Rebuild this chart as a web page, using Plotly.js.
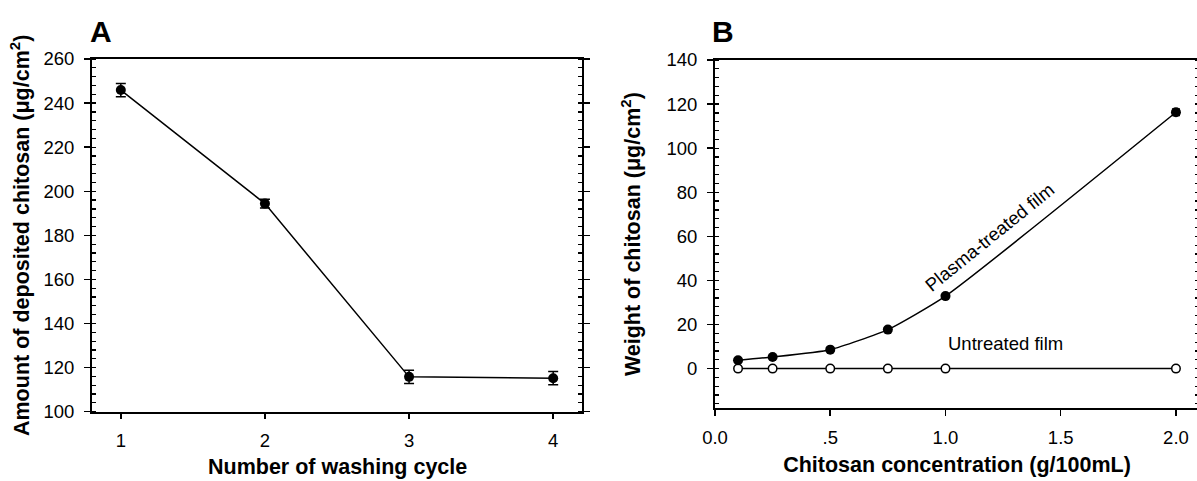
<!DOCTYPE html>
<html>
<head>
<meta charset="utf-8">
<script src="https://cdn.plot.ly/plotly-3.0.1.min.js"></script>
<style>
html,body{margin:0;padding:0;overflow:hidden;background:#fff;}
#chart{width:1200px;height:481px;}
</style>
</head>
<body>
<div id="chart"></div>
<script>
// ---- Panel A data ----
var washCycles = [1, 2, 3, 4];
var depositedChitosan = [245.9, 194.4, 115.8, 115.2];
var depositedErr = [3, 2, 3, 3];

// ---- Panel B data ----
var concentration = [0.1, 0.25, 0.5, 0.75, 1.0, 2.0];
var plasmaTreated = [3.8, 5.3, 8.6, 17.7, 32.9, 116.3];
var plasmaErr = [0, 0, 0, 0, 0, 1.5];
var untreated = [0, 0, 0, 0, 0, 0];

var xTicksA = [1, 2, 3, 4];
var xTickTextA = ['1', '2', '3', '4'];
var xTicksB = [0, 0.5, 1.0, 1.5, 2.0];
var xTickTextB = ['0.0', '.5', '1.0', '1.5', '2.0'];
var yTicksB = [0, 20, 40, 60, 80, 100, 120, 140];

var W = 1200, H = 481;
function dx(p){ return p / W; }
function dy(p){ return 1 - p / H; }

var FONT = 'Liberation Sans, Arial, sans-serif';
var tickFont = {family: FONT, size: 18.5, color: '#000'};
var titleFont = {family: FONT, size: 21.5, color: '#000', weight: 'bold'};

var traces = [
  {
    x: washCycles, y: depositedChitosan, xaxis: 'x', yaxis: 'y',
    type: 'scatter', mode: 'lines+markers',
    line: {color: '#000', width: 1.5},
    marker: {color: '#000', size: 10},
    error_y: {type: 'data', array: depositedErr, visible: true, color: '#000', thickness: 1.5, width: 5},
    showlegend: false
  },
  {
    x: concentration, y: untreated, xaxis: 'x2', yaxis: 'y2',
    type: 'scatter', mode: 'lines+markers',
    line: {color: '#000', width: 1.5},
    marker: {color: '#fff', size: 8.5, line: {color: '#000', width: 1.5}},
    showlegend: false
  },
  {
    x: concentration, y: plasmaTreated, xaxis: 'x2', yaxis: 'y2',
    type: 'scatter', mode: 'lines+markers',
    line: {color: '#000', width: 1.5, shape: 'spline', smoothing: 0.5},
    marker: {color: '#000', size: 10},
    error_y: {type: 'data', array: plasmaErr, visible: true, color: '#000', thickness: 1.5, width: 4},
    showlegend: false
  }
];

var commonY = {
  showline: true, linecolor: '#000', linewidth: 2,
  ticks: 'outside', ticklen: 6, tickwidth: 1.5, tickcolor: '#000',
  mirror: 'ticks', showgrid: false, zeroline: false,
  tickfont: tickFont, ticklabelstandoff: 6,
  minor: {dtick: 4, ticks: 'inside', ticklen: 4, tickwidth: 1.2, tickcolor: '#000', showgrid: false}
};
var innerY = {
  showline: false, ticks: 'inside', ticklen: 5, tickwidth: 1.5, tickcolor: '#000',
  mirror: 'ticks', showgrid: false, zeroline: false, showticklabels: false
};

var layout = {
  width: W, height: H,
  margin: {l: 0, r: 0, t: 0, b: 0},
  paper_bgcolor: '#fff', plot_bgcolor: '#fff',
  font: {family: FONT, color: '#000'},
  showlegend: false,
  xaxis: {
    domain: [dx(92), dx(582)], anchor: 'y', range: [0.8, 4.2],
    tickvals: xTicksA, ticktext: xTickTextA,
    showline: true, linecolor: '#000', linewidth: 2, mirror: true,
    ticks: 'outside', ticklen: 5, tickwidth: 1.5, tickcolor: '#000',
    showgrid: false, zeroline: false, tickfont: tickFont, ticklabelstandoff: 6
  },
  yaxis: Object.assign({}, commonY, {
    domain: [dy(411.7), dy(59)], anchor: 'x', range: [100, 260], dtick: 20,
    title: {text: 'Amount of deposited chitosan (μg/cm<sup>2</sup>)', font: titleFont, standoff: 8}
  }),
  yaxis3: Object.assign({}, innerY, {
    domain: [dy(411.7), dy(59)], anchor: 'x', overlaying: 'y', range: [100, 260], dtick: 20
  }),
  xaxis2: {
    domain: [dx(715), dx(1199)], anchor: 'y2', range: [0, 2.1],
    tickvals: xTicksB, ticktext: xTickTextB,
    showline: true, linecolor: '#000', linewidth: 2, mirror: true,
    ticks: 'outside', ticklen: 6, tickwidth: 1.5, tickcolor: '#000',
    showgrid: false, zeroline: false, tickfont: tickFont, ticklabelstandoff: 5,
    title: {text: 'Chitosan concentration (g/100mL)', font: titleFont, standoff: 10}
  },
  yaxis2: Object.assign({}, commonY, {
    domain: [dy(408.3), dy(60)], anchor: 'x2', range: [-18, 140],
    tickvals: yTicksB,
    title: {text: 'Weight of chitosan (μg/cm<sup>2</sup>)', font: titleFont, standoff: 20}
  }),
  yaxis4: Object.assign({}, innerY, {
    domain: [dy(408.3), dy(60)], anchor: 'x2', overlaying: 'y2', range: [-18, 140],
    tickvals: yTicksB
  }),
  annotations: [
    {text: '<b>Number of washing cycle</b>', xref: 'paper', yref: 'paper', x: dx(337), y: dy(467),
     xanchor: 'center', yanchor: 'middle', showarrow: false, font: {family: FONT, size: 21.5, color: '#000'}},
    {text: '<b>A</b>', xref: 'paper', yref: 'paper', x: dx(88), y: dy(31.5),
     xanchor: 'left', yanchor: 'middle', showarrow: false, font: {family: FONT, size: 30, color: '#000'}},
    {text: '<b>B</b>', xref: 'paper', yref: 'paper', x: dx(710), y: dy(31.5),
     xanchor: 'left', yanchor: 'middle', showarrow: false, font: {family: FONT, size: 30, color: '#000'}},
    {text: 'Plasma-treated film', xref: 'x2', yref: 'y2', x: 1.19, y: 59.5,
     textangle: -39, showarrow: false, font: {family: FONT, size: 18.5, color: '#000'}},
    {text: 'Untreated film', xref: 'x2', yref: 'y2', x: 1.26, y: 11.2,
     showarrow: false, font: {family: FONT, size: 18.5, color: '#000'}}
  ]
};

Plotly.newPlot('chart', traces, layout, {displayModeBar: false, staticPlot: true});
</script>
</body>
</html>
